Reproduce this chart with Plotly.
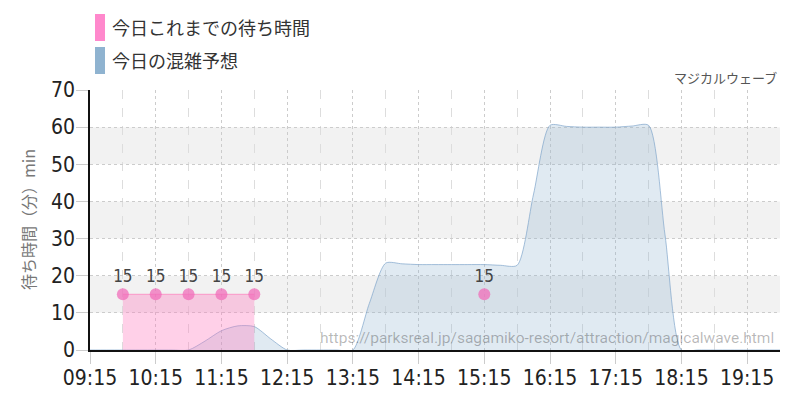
import plotly.graph_objects as go

DAY = "2024-01-01 "

# Prediction (今日の混雑予想), 15-minute steps from 09:15 to 19:45
pred_times = ["09:15", "09:30", "09:45", "10:00", "10:15", "10:30", "10:45", "11:00",
              "11:15", "11:30", "11:45", "12:00", "12:15", "12:30", "12:45", "13:00",
              "13:15", "13:30", "13:45", "14:00", "14:15", "14:30", "14:45", "15:00",
              "15:15", "15:30", "15:45", "16:00", "16:15", "16:30", "16:45", "17:00",
              "17:15", "17:30", "17:45", "18:00", "18:15", "18:30", "18:45", "19:00",
              "19:15", "19:30", "19:45"]
pred_values = [0, 0, 0, 0, 0, 0, 0, 2.4,
               5.2, 6.5, 6.3, 3.0, 0, 0, 0, 0,
               0, 12.5, 23.4, 23.2, 23.0, 23.0, 23.0, 23.0,
               23.0, 22.8, 22.8, 42.0, 60.5, 60.2, 60.0, 60.0,
               60.0, 60.3, 60.5, 31.0, 0, 0, 0, 0,
               0, 0, 0]

# Actual wait times (今日これまでの待ち時間)
actual_times = ["09:45", "10:15", "10:45", "11:15", "11:45", "12:15", "15:15"]
actual_values = [15, 15, 15, 15, 15, None, 15]

tick_labels = ["09:15", "10:15", "11:15", "12:15", "13:15", "14:15",
               "15:15", "16:15", "17:15", "18:15", "19:15"]

title_text = "マジカルウェーブ"
y_title = "待ち時間（分）min"
legend_labels = ["今日これまでの待ち時間", "今日の混雑予想"]
legend_colors = ["#FF88CC", "#8FB3D0"]
watermark = "https://parksreal.jp/sagamiko-resort/attraction/magicalwave.html"

NUM_FONT = "Liberation Sans Narrow, DejaVu Sans Condensed, sans-serif"
JP_FONT = "Noto Sans CJK JP, Noto Sans, sans-serif"

# page has an 8px body margin; target plot area in page pixels
OFF = 8
L, R, T, B = 90, 780, 90, 350
FW, FH = 800 - OFF, 400 - OFF
PW, PH = R - L, B - T


def px(xp):
    return (xp - L) / PW


def py(yp):
    return (B - yp) / PH


fig = go.Figure()

fig.add_trace(go.Scatter(
    x=[DAY + t for t in pred_times], y=pred_values,
    mode="lines", line=dict(color="rgba(120,160,200,0.65)", width=1, shape="spline", smoothing=0.7),
    fill="tozeroy", fillcolor="rgba(143,179,208,0.28)",
    showlegend=False, hoverinfo="skip"))

# split actual series into contiguous segments for the filled area
segments, cur = [], []
for t, v in zip(actual_times, actual_values):
    if v is None:
        if cur:
            segments.append(cur)
        cur = []
    else:
        cur.append((t, v))
if cur:
    segments.append(cur)

for seg in segments:
    if len(seg) < 2:
        continue
    fig.add_trace(go.Scatter(
        x=[DAY + t for t, _ in seg], y=[v for _, v in seg],
        mode="lines", line=dict(color="rgba(255,110,180,0.6)", width=1),
        fill="tozeroy", fillcolor="rgba(255,120,190,0.35)",
        showlegend=False, hoverinfo="skip"))

fig.add_trace(go.Scatter(
    x=[DAY + t for t in actual_times], y=actual_values,
    mode="markers+text",
    marker=dict(color="rgba(240,110,185,0.75)", size=12),
    text=[("" if v is None else str(v)) for v in actual_values],
    textposition="top center",
    textfont=dict(family=NUM_FONT, size=17, color="#444"),
    showlegend=False, hoverinfo="skip"))

# alternating gray bands
shapes = []
for lo in (10, 30, 50):
    shapes.append(dict(type="rect", xref="paper", yref="y", x0=0, x1=1, y0=lo, y1=lo + 10,
                       fillcolor="rgba(0,0,0,0.05)", line=dict(width=0), layer="below"))

annotations = []
for i, (lab, col) in enumerate(zip(legend_labels, legend_colors)):
    ytop = 14 + i * 33
    shapes.append(dict(type="rect", xref="paper", yref="paper",
                       x0=px(95), x1=px(105), y0=py(ytop), y1=py(ytop + 27),
                       fillcolor=col, line=dict(width=0)))
    annotations.append(dict(xref="paper", yref="paper", x=px(110), y=py(ytop + 13),
                            text=lab, showarrow=False, xanchor="left", yanchor="middle",
                            font=dict(family=JP_FONT, size=18, color="#333")))

annotations.append(dict(xref="paper", yref="paper", x=px(779), y=py(78),
                        text=title_text, showarrow=False, xanchor="right", yanchor="middle",
                        font=dict(family=JP_FONT, size=13, color="#555")))
annotations.append(dict(xref="paper", yref="paper", x=px(776), y=py(338),
                        text=watermark, showarrow=False, xanchor="right", yanchor="middle",
                        font=dict(family="Roboto, Noto Sans, sans-serif", size=15.5, color="rgba(0,0,0,0.28)")))
annotations.append(dict(xref="paper", yref="paper", x=px(28), y=py(220),
                        text=y_title, showarrow=False, xanchor="center", yanchor="middle",
                        textangle=-90,
                        font=dict(family=JP_FONT, size=16, color="#777")))

fig.update_layout(
    width=FW, height=FH,
    margin=dict(l=L - OFF, r=FW - (R - OFF), t=T - OFF, b=FH - (B - OFF), autoexpand=False),
    paper_bgcolor="white", plot_bgcolor="white",
    shapes=shapes, annotations=annotations,
    xaxis=dict(
        type="date", automargin=False,
        range=[DAY + "09:15", DAY + "19:45"],
        tickmode="array",
        tickvals=[DAY + t for t in tick_labels],
        ticktext=tick_labels,
        ticks="outside", ticklen=12, tickcolor="#ccc",
        ticklabelstandoff=-4,
        tickfont=dict(family=NUM_FONT, size=21, color="#222"),
        showgrid=True, gridcolor="#ccc", griddash="dot", gridwidth=1,
        minor=dict(tickmode="linear", tick0=DAY + "09:45", dtick=3600000,
                   showgrid=True, gridcolor="#ddd", griddash="dash", gridwidth=1),
        showline=True, linecolor="#111", linewidth=1.5,
        zeroline=False, fixedrange=True),
    yaxis=dict(
        automargin=False,
        range=[0, 70], dtick=10, tick0=0,
        ticks="outside", ticklen=12, tickcolor="#ccc",
        ticklabelstandoff=-3,
        tickfont=dict(family=NUM_FONT, size=21, color="#222"),
        showgrid=True, gridcolor="#ccc", griddash="dot", gridwidth=1,
        showline=True, linecolor="#111", linewidth=1.5,
        zeroline=False),
)

fig.write_html("out.html")
